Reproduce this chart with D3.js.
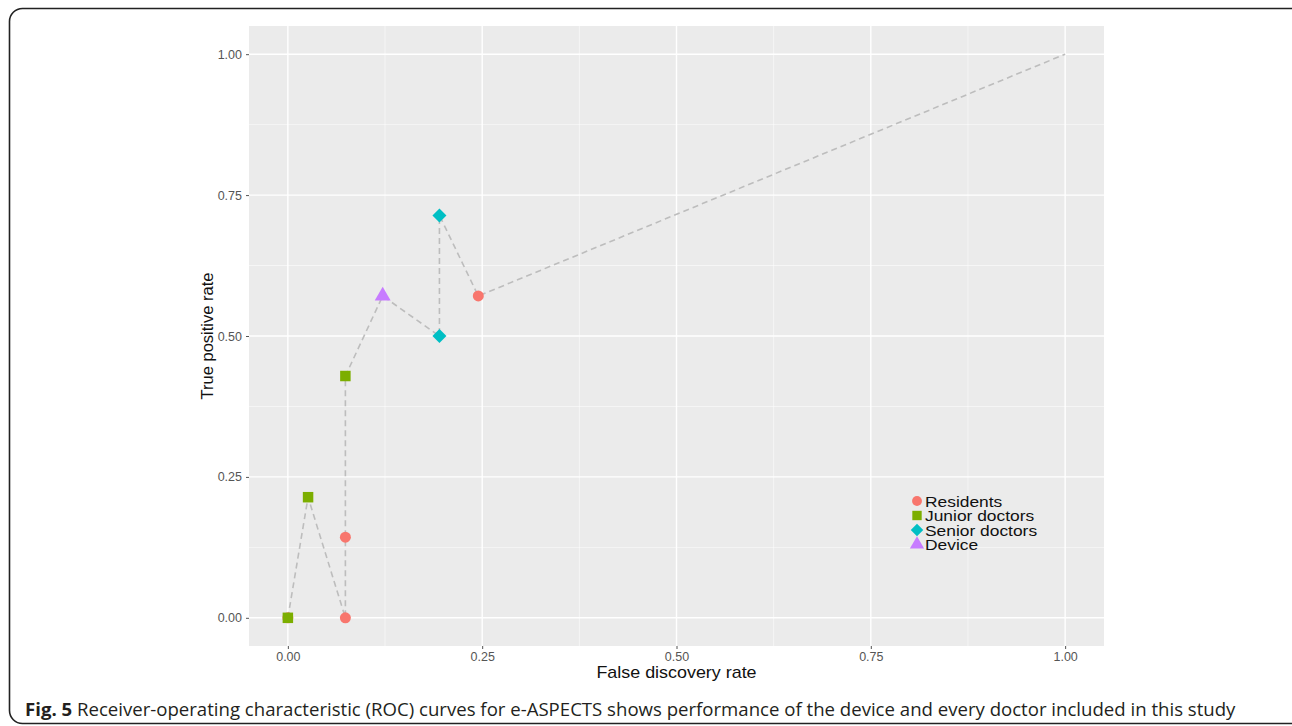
<!DOCTYPE html>
<html>
<head>
<meta charset="utf-8">
<script src="https://cdn.jsdelivr.net/npm/d3@7"></script>
<style>
  body { margin: 0; background: #fff; }
  svg { display: block; }
</style>
</head>
<body>
<svg id="chart" width="1292" height="726"></svg>
<script>
// series values (false discovery rate, true positive rate)
const groups = ["Residents", "Junior doctors", "Senior doctors", "Device"];
const residentsFdr = [0, 0.074, 0.074, 0.245];
const residentsTpr = [0, 0, 0.143, 0.571];
const juniorFdr = [0, 0.026, 0.074];
const juniorTpr = [0, 0.214, 0.429];
const seniorFdr = [0.195, 0.195];
const seniorTpr = [0.5, 0.714];
const deviceFdr = [0.122];
const deviceTpr = [0.571];
const endPoint = [1, 1];
const ticks = [0, 0.25, 0.5, 0.75, 1];
const minorTicks = [0.125, 0.375, 0.625, 0.875];

const colors = ["#F8766D", "#7CAE00", "#00BFC4", "#C77CFF"];
const symbols = [d3.symbolCircle, d3.symbolSquare, d3.symbolDiamond2, d3.symbolTriangle];
const symSize = [95, 110, 125, 110];

const series = [
  [residentsFdr, residentsTpr],
  [juniorFdr, juniorTpr],
  [seniorFdr, seniorTpr],
  [deviceFdr, deviceTpr]
].map(([fx, ty], g) => fx.map((v, i) => ({ fdr: v, tpr: ty[i], g })));

const svg = d3.select("#chart");
const sans = "Liberation Sans, Arial, sans-serif";

// frame round the figure
svg.append("rect")
  .attr("x", 9.5).attr("y", 8.5).attr("width", 1295).attr("height", 715)
  .attr("rx", 13).attr("fill", "none").attr("stroke", "#222").attr("stroke-width", 1.6);

const m = { left: 249, top: 26, right: 1104, bottom: 646 };
const x = d3.scaleLinear().domain([-0.05, 1.05]).range([m.left, m.right]);
const y = d3.scaleLinear().domain([-0.05, 1.05]).range([m.bottom, m.top]);

// panel
svg.append("rect")
  .attr("x", m.left).attr("y", m.top)
  .attr("width", m.right - m.left).attr("height", m.bottom - m.top)
  .attr("fill", "#EBEBEB");

const grid = svg.append("g");
grid.selectAll(".vmin").data(minorTicks).enter().append("line")
  .attr("x1", d => x(d)).attr("x2", d => x(d)).attr("y1", m.top).attr("y2", m.bottom)
  .attr("stroke", "#fff").attr("stroke-width", 0.7).attr("opacity", 0.8);
grid.selectAll(".hmin").data(minorTicks).enter().append("line")
  .attr("y1", d => y(d)).attr("y2", d => y(d)).attr("x1", m.left).attr("x2", m.right)
  .attr("stroke", "#fff").attr("stroke-width", 0.7).attr("opacity", 0.8);
grid.selectAll(".vmaj").data(ticks).enter().append("line")
  .attr("x1", d => x(d)).attr("x2", d => x(d)).attr("y1", m.top).attr("y2", m.bottom)
  .attr("stroke", "#fff").attr("stroke-width", 1.4);
grid.selectAll(".hmaj").data(ticks).enter().append("line")
  .attr("y1", d => y(d)).attr("y2", d => y(d)).attr("x1", m.left).attr("x2", m.right)
  .attr("stroke", "#fff").attr("stroke-width", 1.4);

// axes
const fmt = d3.format(".2f");
const xAxis = svg.append("g").attr("transform", `translate(0,${m.bottom})`)
  .call(d3.axisBottom(x).tickValues(ticks).tickFormat(fmt).tickSize(3).tickPadding(3));
const yAxis = svg.append("g").attr("transform", `translate(${m.left},0)`)
  .call(d3.axisLeft(y).tickValues(ticks).tickFormat(fmt).tickSize(3).tickPadding(4));
[xAxis, yAxis].forEach(a => {
  a.select(".domain").remove();
  a.selectAll(".tick line").attr("stroke", "#555");
  a.selectAll(".tick text").attr("fill", "#555")
    .style("font-family", sans).style("font-size", "12.5px");
});

// axis titles (the picture is a little stretched sideways)
svg.append("text").attr("transform", `translate(${x(0.5)},678) scale(1.12,1)`)
  .attr("text-anchor", "middle").attr("fill", "#111")
  .style("font-family", sans).style("font-size", "16px")
  .text("False discovery rate");
svg.append("text").attr("transform", `translate(213,${y(0.5)}) rotate(-90)`)
  .attr("text-anchor", "middle").attr("fill", "#111")
  .style("font-family", sans).style("font-size", "16.5px")
  .text("True positive rate");

// ROC path through all points, ordered by rate, ending at (1,1)
const pathPts = series.flat().slice()
  .sort((a, b) => a.fdr - b.fdr || a.tpr - b.tpr)
  .concat([{ fdr: endPoint[0], tpr: endPoint[1] }]);
svg.append("path").datum(pathPts)
  .attr("fill", "none").attr("stroke", "#BDBDBD").attr("stroke-width", 1.6)
  .attr("stroke-dasharray", "6,4")
  .attr("d", d3.line().x(d => x(d.fdr)).y(d => y(d.tpr)));

// points
series.forEach((pts, g) => {
  svg.selectAll(".pt" + g).data(pts).enter().append("path")
    .attr("transform", d => `translate(${x(d.fdr)},${y(d.tpr)})`)
    .attr("d", d3.symbol().type(symbols[g]).size(symSize[g]))
    .attr("fill", colors[g]);
});

// legend
const lg = svg.append("g").attr("transform", "translate(917,501)");
groups.forEach((name, i) => {
  const row = lg.append("g").attr("transform", `translate(0,${i * 14.5})`);
  row.append("path")
    .attr("d", d3.symbol().type(symbols[i]).size(symSize[i] * 0.8))
    .attr("fill", colors[i]);
  row.append("text").attr("transform", "translate(8,5.5) scale(1.2,1)")
    .attr("fill", "#111")
    .style("font-family", sans).style("font-size", "14.5px")
    .text(name);
});

// caption
const cap = svg.append("text").attr("x", 25).attr("y", 716)
  .attr("fill", "#231F20")
  .style("font-family", "Open Sans, sans-serif").style("font-size", "18.6px");
cap.append("tspan").style("font-weight", "bold").text("Fig. 5");
cap.append("tspan").text(" Receiver-operating characteristic (ROC) curves for e-ASPECTS shows performance of the device and every doctor included in this study");
</script>
</body>
</html>
